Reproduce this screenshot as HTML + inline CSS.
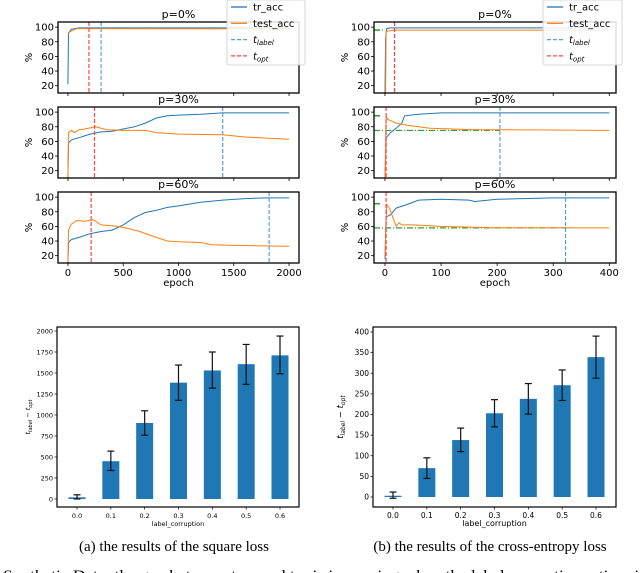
<!DOCTYPE html>
<html><head><meta charset="utf-8">
<style>
body{margin:0;background:#fff;width:640px;height:573px;overflow:hidden}
svg{display:block;font-family:"DejaVu Sans","Liberation Sans",sans-serif}
.cap{font-family:"Liberation Serif",serif}
</style></head>
<body>
<svg id="fig" width="640" height="573" viewBox="0 0 640 573" xmlns="http://www.w3.org/2000/svg"></svg>
<script>
// ---- data: training curves (epoch, accuracy %) ----
const sqP0Train=[[0,22],[5,92],[30,97],[100,99],[2000,99]];
const sqP0Test=[[0,90],[20,94],[80,98],[2000,97.5]];
const sqP30Train=[[0,10],[5,58],[30,62],[100,65],[200,70],[300,73],[400,74],[500,77],[600,80],[700,85],[800,92],[900,95],[1000,96],[1200,97],[1400,99],[2000,99]];
const sqP30Test=[[0,10],[5,72],[30,75],[60,72],[100,76],[150,77],[250,80],[350,76],[500,75],[700,75],[800,72],[1000,70],[1400,69],[1600,66],[2000,63]];
const sqP60Train=[[0,10],[5,38],[30,42],[100,45],[200,50],[300,53],[400,55],[500,62],[600,72],[700,79],[800,82],[900,86],[1000,88],[1200,93],[1400,96],[1600,98],[1800,99],[2000,99]];
const sqP60Test=[[0,10],[5,55],[30,63],[80,68],[150,67],[230,69],[300,62],[450,60],[550,57],[650,53],[800,45],[900,40],[1000,39],[1200,38],[1300,35],[1500,34],[2000,33]];
const sqTlabel=[300,1400,1820];
const sqTopt=[190,240,210];
const ceP0Train=[[0,10],[1,85],[3,98],[10,99],[400,99]];
const ceP0Test=[[0,10],[1,10],[2,94],[15,96],[400,96]];
const ceP30Train=[[0,10],[2,65],[10,72],[20,78],[30,85],[35,95],[60,97],[100,99],[400,99]];
const ceP30Test=[[0,10],[2,95],[5,90],[20,85],[40,82],[80,78],[120,77],[160,76],[200,76],[400,75]];
const ceP60Train=[[0,15],[2,73],[10,76],[20,85],[40,90],[60,96],[100,97],[150,96],[160,94],[200,97],[300,99],[400,99]];
const ceP60Test=[[0,20],[3,90],[8,85],[15,70],[20,60],[25,65],[30,62],[50,62],[100,60],[200,58],[400,58]];
const ceTlabel=[17,205,322];
const ceTopt=[17,2,2];
const ceGreenLevel=[96,75,58];
const ceGreenEnd=[-2,205,330];
const titles=["p=0%","p=30%","p=60%"];
const pctTicks=[20,40,60,80,100];
const sqXTicks=[0,500,1000,1500,2000];
const ceXTicks=[0,100,200,300,400];
// ---- data: bar charts ----
const corrupt=["0.0","0.1","0.2","0.3","0.4","0.5","0.6"];
const sqGap=[20,450,905,1385,1530,1605,1710];
const sqLo=[0,340,760,1175,1320,1365,1490];
const sqHi=[50,570,1050,1595,1750,1840,1940];
const sqYTicks=[0,250,500,750,1000,1250,1500,1750,2000];
const ceGap=[3,70,138,203,238,271,339];
const ceLo=[-3,45,110,170,201,234,288];
const ceHi=[12,95,167,236,275,308,390];
const ceYTicks=[0,50,100,150,200,250,300,350,400];

const NS="http://www.w3.org/2000/svg";
const fig=document.getElementById('fig');
function mk(tag,attrs,parent,name,text){
  const e=document.createElementNS(NS,tag);
  for(const k in attrs)e.setAttribute(k,attrs[k]);
  
  
  if(text!==undefined)e.textContent=text;
  (parent||fig).appendChild(e);return e;
}
function lin(d0,d1,r0,r1){return v=>r0+(v-d0)*(r1-r0)/(d1-d0);}

function curvePanel(side,i,tr,te,tl,to,xmin,xmax,ticksX,showX,green){
  const L=side?374:58,R=side?616:299;
  const tops=[22,107,192],T=tops[i],B=T+71;
  const x=lin(xmin,xmax,L,R), y=lin(10,107,B,T);
  const g=mk('g',{},fig,(side?'ce':'sq')+'-panel-p'+[0,30,60][i]);
  const clipId='c'+side+i;
  const cp=mk('clipPath',{id:clipId},g,'clip');
  mk('rect',{x:L,y:T,width:R-L,height:B-T},cp,'clip-rect');
  const pts=a=>a.map(p=>x(p[0]).toFixed(1)+','+y(p[1]).toFixed(1)).join(' ');
  const pg=mk('g',{'clip-path':'url(#'+clipId+')'},g,'plot-area');
  if(green){
    mk('line',{x1:L,x2:x(green[1]),y1:y(green[0]),y2:y(green[0]),stroke:'#2ca02c','stroke-width':1.2,'stroke-dasharray':'6,2,1,2'},pg,'baseline-line');
    mk('line',{x1:L,x2:L+6,y1:y(green[2]),y2:y(green[2]),stroke:'#2ca02c','stroke-width':1.5},pg,'best-marker');
  }
  mk('polyline',{points:pts(tr),fill:'none',stroke:'#1f77b4','stroke-width':1},pg,'tr-acc-line');
  mk('polyline',{points:pts(te),fill:'none',stroke:'#ff7f0e','stroke-width':1},pg,'test-acc-line');
  mk('line',{x1:x(tl),x2:x(tl),y1:T,y2:B,stroke:'#5b9fd1','stroke-width':1.2,'stroke-dasharray':'4,2'},pg,'t-label-line');
  mk('line',{x1:x(to),x2:x(to),y1:T,y2:B,stroke:'#ff4444','stroke-width':1.2,'stroke-dasharray':'4,2'},pg,'t-opt-line');
  mk('rect',{x:L,y:T,width:R-L,height:B-T,fill:'none',stroke:'#000','stroke-width':1.3},g,'frame');
  pctTicks.forEach(v=>{
    mk('line',{x1:L-3,x2:L,y1:y(v),y2:y(v),stroke:'#000','stroke-width':0.8},g,'y-tick');
    mk('text',{x:L-4,y:y(v)+3.5,'font-size':10,'text-anchor':'end'},g,'y-tick-label',String(v));
  });
  mk('text',{x:L-30,y:(T+B)/2+4,'font-size':10,'text-anchor':'middle',transform:`rotate(-90 ${L-30} ${(T+B)/2})`},g,'y-axis-title','%');
  mk('text',{x:(L+R)/2,y:T-4,'font-size':11,'text-anchor':'middle'},g,'panel-title',titles[i]);
  ticksX.forEach(v=>{
    mk('line',{x1:x(v),x2:x(v),y1:B,y2:B+3,stroke:'#000','stroke-width':0.8},g,'x-tick');
    if(showX)mk('text',{x:x(v),y:B+13,'font-size':10,'text-anchor':'middle'},g,'x-tick-label',String(v));
  });
  if(showX)mk('text',{x:(L+R)/2,y:B+23,'font-size':10,'text-anchor':'middle'},g,'x-axis-title','epoch');
}
function legend(x0,w){
  const g=mk('g',{},fig,'legend');
  mk('rect',{x:x0,y:0,width:w,height:65,fill:'#fff','fill-opacity':0.85,stroke:'#ccc','stroke-width':0.8,rx:2},g,'legend-box');
  const items=[['tr_acc','#1f77b4',''],['test_acc','#ff7f0e',''],['t','#5b9fd1','4,2','label'],['t','#ff4444','4,2','opt']];
  items.forEach((it,k)=>{
    const yy=7+k*16.3;
    mk('line',{x1:x0+4,x2:x0+20,y1:yy,y2:yy,stroke:it[1],'stroke-width':1.3,'stroke-dasharray':it[2]||'none'},g,'legend-swatch');
    const t=mk('text',{x:x0+26,y:yy+3.5,'font-size':10},g,'legend-entry',it[0]);
    if(it[3]){const s=document.createElementNS(NS,'tspan');s.setAttribute('font-size','7');s.setAttribute('font-style','italic');s.setAttribute('dy','2');s.textContent=it[3];t.appendChild(s);t.setAttribute('font-style','italic');}
  });
}
const sq=[[sqP0Train,sqP0Test],[sqP30Train,sqP30Test],[sqP60Train,sqP60Test]];
const ce=[[ceP0Train,ceP0Test],[ceP30Train,ceP30Test],[ceP60Train,ceP60Test]];
for(let i=0;i<3;i++){
  curvePanel(0,i,sq[i][0],sq[i][1],sqTlabel[i],sqTopt[i],-90,2090,sqXTicks,i==2,null);
  curvePanel(1,i,ce[i][0],ce[i][1],ceTlabel[i],ceTopt[i],-19.6,412,ceXTicks,i==2,[ceGreenLevel[i],ceGreenEnd[i],[96,95,91][i]]);
}
legend(227,78);legend(543,79);

function barChart(side,vals,lo,hi,yt,ymax,y0px,ytop,c0,c6,cap){
  const L=side?373:57,R=side?616:299,T=327,B=507;
  const y=lin(0,ymax,y0px,ytop), x=lin(0,6,c0,c6), bw=17;
  const g=mk('g',{},fig,(side?'ce':'sq')+'-bar-chart');
  vals.forEach((v,k)=>{
    mk('rect',{x:x(k)-bw/2,y:Math.min(y(v),y(0)),width:bw,height:Math.abs(y(0)-y(v)),fill:'#1f77b4'},g,'bar-'+corrupt[k]);
    mk('line',{x1:x(k),x2:x(k),y1:y(lo[k]),y2:y(hi[k]),stroke:'#111','stroke-width':1.2},g,'error-bar');
    [lo[k],hi[k]].forEach(e=>mk('line',{x1:x(k)-3.5,x2:x(k)+3.5,y1:y(e),y2:y(e),stroke:'#111','stroke-width':1.2},g,'error-cap'));
    mk('line',{x1:x(k),x2:x(k),y1:B,y2:B+2.5,stroke:'#000','stroke-width':0.7},g,'x-tick');
    mk('text',{x:x(k),y:B+11,'font-size':side?7.5:6.5,'text-anchor':'middle'},g,'x-tick-label',corrupt[k]);
  });
  yt.forEach(v=>{
    mk('line',{x1:L-2.5,x2:L,y1:y(v),y2:y(v),stroke:'#000','stroke-width':0.7},g,'y-tick');
    mk('text',{x:L-4,y:y(v)+2.5,'font-size':side?7.5:6.5,'text-anchor':'end'},g,'y-tick-label',String(v));
  });
  mk('rect',{x:L,y:T,width:R-L,height:B-T,fill:'none',stroke:'#000','stroke-width':1.2},g,'frame');
  mk('text',{x:(L+R)/2,y:B+19,'font-size':side?8:6.5,'text-anchor':'middle'},g,'x-axis-title','label_corruption');
  const yx=side?L-30:L-27,ym=(T+B)/2;
  const t=mk('text',{x:yx,y:ym,'font-size':side?8.5:6.5,'text-anchor':'middle','font-style':'italic',transform:`rotate(-90 ${yx} ${ym})`},g,'y-axis-title','t');
  const a=document.createElementNS(NS,'tspan');a.setAttribute('font-size',side?'6':'5');a.setAttribute('dy','2');a.textContent='label';t.appendChild(a);
  const b=document.createElementNS(NS,'tspan');b.setAttribute('dy','-2');b.textContent=' − t';t.appendChild(b);
  const c=document.createElementNS(NS,'tspan');c.setAttribute('font-size',side?'6':'5');c.setAttribute('dy','2');c.textContent='opt';t.appendChild(c);
  mk('text',{x:side?490:174,y:551,'font-size':15,'text-anchor':'middle',class:'cap'},fig,'caption',cap);
}
barChart(0,sqGap,sqLo,sqHi,sqYTicks,2000,499,331,77,280,'(a) the results of the square loss');
barChart(1,ceGap,ceLo,ceHi,ceYTicks,400,497,332,393,596,'(b) the results of the cross-entropy loss');
const fc=mk('text',{x:-6,y:580,'font-size':15,class:'cap',textLength:652,lengthAdjust:'spacingAndGlyphs'},fig,'figure-caption');
[[': Synthetic Data: the gap between t',0,15],['label',3,9],[' and t',-3,15],['opt',3,9],[' is increasing when the label corruption ratio p is',-3,15]].forEach(p=>{
  const s=document.createElementNS(NS,'tspan');s.setAttribute('dy',p[1]);s.setAttribute('font-size',p[2]);s.textContent=p[0];fc.appendChild(s);
});
</script>
</body></html>
